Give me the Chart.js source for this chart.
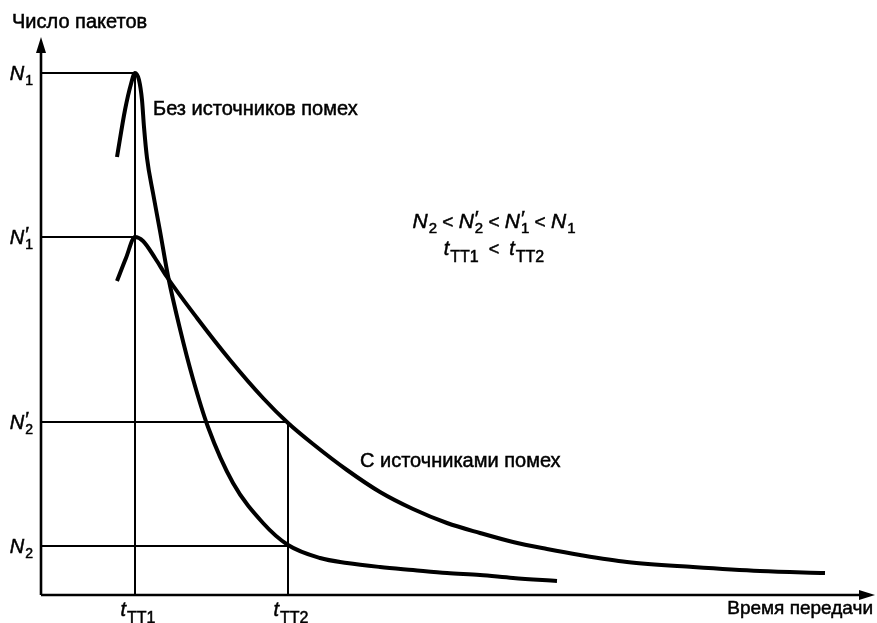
<!DOCTYPE html>
<html lang="ru">
<head>
    <meta charset="UTF-8">
    <title>Число пакетов / Время передачи</title>
    <script src="https://cdn.jsdelivr.net/npm/chart.js"></script>
    <style>
        body {
            margin: 0;
            background: #fff;
            overflow: hidden;
        }
        .chart-box {
            position: relative;
            width: 877px;
            height: 623px;
        }
    </style>
</head>
<body>
    <div class="chart-box">
        <canvas id="packetChart"></canvas>
    </div>

    <script>
        // Curve without interference sources (time, packets) - arbitrary units
        const curve1T = [76, 84, 90, 94, 98, 101, 103, 106, 112, 119, 127, 139, 152, 167, 192, 222, 247, 279, 306, 339, 372, 406, 439, 472, 516];
        const curve1N = [438, 485, 511, 522, 515, 495, 468, 437, 402, 364, 319, 266, 216, 168, 112, 72, 50, 37, 32, 28, 25, 22, 20, 17, 14];

        // Curve with interference sources
        const curve2T = [76, 85, 94, 102, 114, 126, 156, 189, 222, 247, 272, 306, 339, 372, 406, 439, 472, 506, 539, 586, 652, 719, 784];
        const curve2N = [314, 337, 358, 354, 337, 318, 277, 235, 197, 172, 151, 125, 103, 86, 72, 62, 53, 46, 40, 33, 28, 24, 22];

        // Levels on the packet axis: N1, N1', N2', N2
        const levelValues = [522, 358, 173, 49];
        const levelSubs = ['1', '1', '2', '2'];
        const levelPrimes = [false, true, true, false];

        // Time marks: tTT1, tTT2
        const timeValues = [94, 247];
        const timeSubs = ['ТТ1', 'ТТ2'];

        const xMax = 834;
        const yMax = 558;

        const FONT = '"Liberation Sans", Arial, sans-serif';

        const pts = (xs, ys) => xs.map((x, i) => ({ x: x, y: ys[i] }));

        // guide lines: level -> time mark (and down to the axis for N1 / N2')
        const guides = [
            [{ x: 0, y: levelValues[0] }, { x: timeValues[0], y: levelValues[0] }, { x: timeValues[0], y: 0 }],
            [{ x: 0, y: levelValues[1] }, { x: timeValues[0], y: levelValues[1] }],
            [{ x: 0, y: levelValues[2] }, { x: timeValues[1], y: levelValues[2] }, { x: timeValues[1], y: 0 }],
            [{ x: 0, y: levelValues[3] }, { x: timeValues[1], y: levelValues[3] }]
        ];

        // slightly heavier text, like the scanned original
        function text(ctx, s, x, y) {
            ctx.fillText(s, x, y);
            ctx.strokeText(s, x, y);
        }

        // draw text made of pieces: {t, it, size, dx, dy, gap, stack}
        function richWidth(ctx, parts) {
            let w = 0;
            parts.forEach(p => {
                ctx.font = (p.it ? 'italic ' : '') + p.size + 'px ' + FONT;
                if (!p.stack) w += ctx.measureText(p.t).width + (p.gap || 0);
            });
            return w;
        }
        function drawRich(ctx, parts, x, y, align) {
            const w = richWidth(ctx, parts);
            let cx = align === 'right' ? x - w : align === 'center' ? x - w / 2 : x;
            ctx.textAlign = 'left';
            ctx.textBaseline = 'alphabetic';
            parts.forEach(p => {
                ctx.font = (p.it ? 'italic ' : '') + p.size + 'px ' + FONT;
                text(ctx, p.t, cx + (p.dx || 0), y + (p.dy || 0));
                if (!p.stack) cx += ctx.measureText(p.t).width + (p.gap || 0);
            });
        }
        function nParts(sub, prime, size) {
            const parts = [{ t: 'N', it: true, size: size, gap: 1 }];
            if (prime) parts.push({ t: '′', it: false, size: size, dy: -3, stack: true });
            parts.push({ t: sub, size: Math.round(size * 0.72), dy: 5 });
            return parts;
        }
        function tParts(sub, size) {
            return [
                { t: 't', it: true, size: size, gap: 1 },
                { t: sub, size: Math.round(size * 0.78), dy: 7 }
            ];
        }

        const overlay = {
            id: 'overlay',
            afterDatasetsDraw(chart) {
                const ctx = chart.ctx;
                const xs = chart.scales.x;
                const ys = chart.scales.y;
                const x0 = xs.getPixelForValue(0);
                const y0 = ys.getPixelForValue(0);
                const xEnd = xs.getPixelForValue(xMax);
                const yEnd = ys.getPixelForValue(yMax);
                ctx.save();
                ctx.fillStyle = '#000';
                ctx.strokeStyle = '#000';

                // axes with arrows
                ctx.lineWidth = 2.6;
                ctx.beginPath();
                ctx.moveTo(x0, y0);
                ctx.lineTo(x0, yEnd + 10);
                ctx.moveTo(x0, y0);
                ctx.lineTo(xEnd - 10, y0);
                ctx.stroke();
                ctx.beginPath();
                ctx.moveTo(x0, yEnd);
                ctx.lineTo(x0 - 5, yEnd + 16);
                ctx.lineTo(x0 + 5, yEnd + 16);
                ctx.closePath();
                ctx.fill();
                ctx.beginPath();
                ctx.moveTo(xEnd, y0);
                ctx.lineTo(xEnd - 16, y0 - 5);
                ctx.lineTo(xEnd - 16, y0 + 5);
                ctx.closePath();
                ctx.fill();

                ctx.lineWidth = 0.5;

                // axis titles
                ctx.textBaseline = 'alphabetic';
                ctx.font = '20px ' + FONT;
                ctx.textAlign = 'left';
                text(ctx, 'Число пакетов', 12, 28);
                ctx.font = '19px ' + FONT;
                ctx.textAlign = 'right';
                text(ctx, 'Время передачи', 873, 614);

                // level labels
                levelValues.forEach((v, i) => {
                    const py = ys.getPixelForValue(v);
                    drawRich(ctx, nParts(levelSubs[i], levelPrimes[i], 20), x0 - 8, py + 7, 'right');
                });
                // time labels
                timeValues.forEach((v, i) => {
                    const px = xs.getPixelForValue(v);
                    drawRich(ctx, tParts(timeSubs[i], 20), px + 3, 616, 'center');
                });

                // curve captions
                ctx.font = '20px ' + FONT;
                ctx.textAlign = 'left';
                text(ctx, 'Без источников помех', xs.getPixelForValue(112), ys.getPixelForValue(480));
                text(ctx, 'С источниками помех', xs.getPixelForValue(319), ys.getPixelForValue(128));

                // relations
                const lt = { t: ' < ', size: 19 };
                const row1 = [].concat(
                    nParts('2', false, 21), [lt],
                    nParts('2', true, 21), [lt],
                    nParts('1', true, 21), [lt],
                    nParts('1', false, 21)
                );
                drawRich(ctx, row1, xs.getPixelForValue(453), ys.getPixelForValue(367), 'center');
                const row2 = [].concat(tParts('ТТ1', 20), [{ t: '  <  ', size: 18 }], tParts('ТТ2', 20));
                drawRich(ctx, row2, xs.getPixelForValue(453), ys.getPixelForValue(340), 'center');

                ctx.restore();
            }
        };

        const guideSets = guides.map(g => ({
            data: g,
            borderColor: '#000',
            borderWidth: 2,
            pointRadius: 0,
            tension: 0,
            fill: false
        }));

        const curveStyle = {
            borderColor: '#000',
            borderWidth: 4,
            pointRadius: 0,
            cubicInterpolationMode: 'monotone',
            fill: false,
            borderCapStyle: 'butt'
        };

        new Chart(document.getElementById('packetChart'), {
            type: 'line',
            data: {
                datasets: guideSets.concat([
                    Object.assign({ label: 'Без источников помех', data: pts(curve1T, curve1N) }, curveStyle),
                    Object.assign({ label: 'С источниками помех', data: pts(curve2T, curve2N) }, curveStyle)
                ])
            },
            options: {
                responsive: true,
                maintainAspectRatio: false,
                animation: false,
                devicePixelRatio: 1,
                layout: {
                    padding: { left: 41, right: 2, top: 37, bottom: 28 }
                },
                scales: {
                    x: { type: 'linear', min: 0, max: xMax, display: false },
                    y: { type: 'linear', min: 0, max: yMax, display: false }
                },
                plugins: {
                    legend: { display: false },
                    tooltip: { enabled: false }
                }
            },
            plugins: [overlay]
        });
    </script>
</body>
</html>
